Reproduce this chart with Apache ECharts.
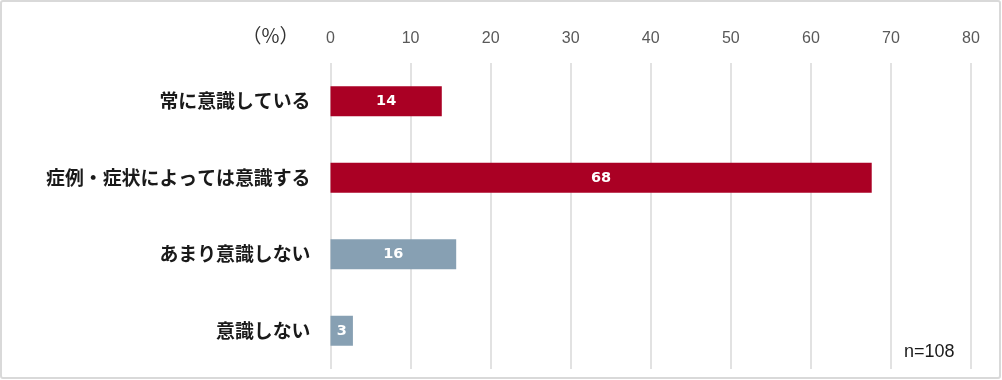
<!DOCTYPE html>
<html>
<head>
<meta charset="utf-8">
<script src="https://cdn.jsdelivr.net/npm/echarts@6/dist/echarts.min.js"></script>
<style>
html,body{margin:0;padding:0;background:#fff;}
#chart{width:1002px;height:380px;}
</style>
</head>
<body>
<div id="chart"></div>
<script>
const categories = ['常に意識している', '症例・症状によっては意識する', 'あまり意識しない', '意識しない'];
const values = [13.9, 67.6, 15.7, 2.8];
const barColors = ['#AA0024', '#AA0024', '#87A0B3', '#87A0B3'];
const axisMin = 0, axisMax = 80, axisStep = 10;
const unitLabel = '（%）';
const sampleNote = 'n=108';

const chart = echarts.init(document.getElementById('chart'), null, {renderer: 'canvas'});
chart.setOption({
  animation: false,
  grid: {left: 330.5, right: 31, top: 63, bottom: 11, containLabel: false},
  xAxis: {
    type: 'value', position: 'top', min: axisMin, max: axisMax, interval: axisStep,
    axisLine: {show: false}, axisTick: {show: false},
    axisLabel: {color: '#595959', fontSize: 16, fontFamily: 'Liberation Sans, Arial, sans-serif', margin: 16},
    splitLine: {show: true, lineStyle: {color: '#d9d9d9', width: 1.5}}
  },
  yAxis: {
    type: 'category', data: categories, inverse: true,
    axisLine: {show: false}, axisTick: {show: false},
    axisLabel: {color: '#1a1a1a', fontSize: 18.9, fontWeight: 'bold', fontFamily: 'Noto Sans CJK JP', margin: 20}
  },
  series: [{
    type: 'bar', barWidth: 30,
    data: values.map((v, i) => ({value: v, itemStyle: {color: barColors[i]}})),
    label: {
      show: true, position: 'inside', color: '#fff', fontSize: 14.5, fontWeight: 'bold',
      fontFamily: 'DejaVu Sans, sans-serif',
      formatter: p => Math.round(p.value)
    }
  }],
  graphic: [
    {type: 'rect', shape: {x: 1, y: 1, width: 999, height: 377, r: 2},
     style: {fill: 'none', stroke: '#d9d9d9', lineWidth: 2}, silent: true},
    {type: 'text', left: 242, top: 26,
     style: {text: unitLabel, fill: '#333', fontSize: 19.5, fontFamily: 'Noto Sans CJK JP'}},
    {type: 'text', left: 904, top: 343,
     style: {text: sampleNote, fill: '#1a1a1a', fontSize: 18, fontFamily: 'Liberation Sans, Arial, sans-serif'}}
  ]
});
</script>
</body>
</html>
